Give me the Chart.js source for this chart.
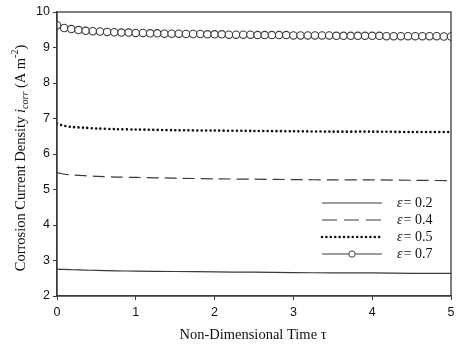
<!DOCTYPE html>
<html>
<head>
<meta charset="utf-8">
<script src="https://cdn.jsdelivr.net/npm/chart.js@4"></script>
<style>
  html, body { margin: 0; padding: 0; background: #fff; }
  #wrap { width: 474px; height: 347px; }
</style>
</head>
<body>
<div id="wrap"><canvas id="myChart" width="474" height="347"></canvas></div>
<script>
// time samples for the smooth curves
var tLine = [0, 0.05, 0.1, 0.2, 0.35, 0.5, 0.75, 1, 1.5, 2, 2.5, 3, 3.5, 4, 4.5, 5];
var eps02 = [2.76, 2.75, 2.75, 2.74, 2.73, 2.72, 2.71, 2.70, 2.69, 2.68, 2.67, 2.66, 2.65, 2.65, 2.64, 2.64];
var eps04 = [5.48, 5.45, 5.43, 5.41, 5.39, 5.37, 5.35, 5.34, 5.32, 5.30, 5.29, 5.28, 5.27, 5.27, 5.26, 5.25];
var eps05 = [6.86, 6.82, 6.79, 6.76, 6.74, 6.72, 6.70, 6.69, 6.67, 6.66, 6.65, 6.64, 6.63, 6.63, 6.62, 6.62];

// eps = 0.7 is plotted with a marker at every output step (dt = 1/11)
var stepMarker = 5 / 55;
var eps07 = [
  9.63, 9.55, 9.52, 9.49, 9.47, 9.46, 9.45, 9.44, 9.43, 9.42,
  9.42, 9.41, 9.41, 9.40, 9.40, 9.39, 9.39, 9.39, 9.38, 9.38,
  9.38, 9.37, 9.37, 9.37, 9.36, 9.36, 9.36, 9.36, 9.35, 9.35,
  9.35, 9.35, 9.35, 9.34, 9.34, 9.34, 9.34, 9.34, 9.34, 9.33,
  9.33, 9.33, 9.33, 9.33, 9.33, 9.33, 9.32, 9.32, 9.32, 9.32,
  9.32, 9.32, 9.32, 9.32, 9.31, 9.31
];

var seriesNames = ['0.2', '0.4', '0.5', '0.7'];
var xTicks = [0, 1, 2, 3, 4, 5];
var yTicks = [2, 3, 4, 5, 6, 7, 8, 9, 10];

function pairs(ts, ys) {
  return ys.map(function (y, i) { return { x: ts[i], y: y }; });
}
var tMarker = eps07.map(function (v, i) { return i * stepMarker; });

var ink = '#3a3a3a';
var serif = '"Liberation Serif", "Times New Roman", serif';
var sans = '"Liberation Sans", Arial, sans-serif';

// frame, axis titles and legend
var decor = {
  id: 'decor',
  afterDraw: function (chart) {
    var c = chart.ctx, a = chart.chartArea;
    c.save();
    c.strokeStyle = ink;
    c.lineWidth = 1.3;
    c.strokeRect(a.left, a.top, a.right - a.left, a.bottom - a.top);

    c.fillStyle = '#111';
    c.textBaseline = 'alphabetic';

    // x title
    c.font = '14.5px ' + serif;
    c.textAlign = 'center';
    c.fillText('Non-Dimensional Time \u03c4', 253, 339);

    // y title, rotated, with italic i and sub/superscripts
    c.translate(25, 158);
    c.rotate(-Math.PI / 2);
    var parts = [
      { t: 'Corrosion Current Density ', f: '14.5px ' + serif, dy: 0 },
      { t: 'i', f: 'italic 14.5px ' + serif, dy: 0 },
      { t: 'corr', f: 'italic 10px ' + serif, dy: 3 },
      { t: ' (A m', f: '14.5px ' + serif, dy: 0 },
      { t: '-2', f: '10px ' + serif, dy: -7 },
      { t: ')', f: '14.5px ' + serif, dy: 0 }
    ];
    var total = 0;
    parts.forEach(function (p) { c.font = p.f; p.w = c.measureText(p.t).width; total += p.w; });
    var x = -total / 2;
    c.textAlign = 'left';
    parts.forEach(function (p) { c.font = p.f; c.fillText(p.t, x, p.dy); x += p.w; });
    c.restore();

    // legend
    c.save();
    chart.data.datasets.forEach(function (ds, i) {
      var y = 203 + i * 17;
      c.strokeStyle = ds.borderColor;
      c.lineWidth = ds.borderWidth;
      c.lineCap = ds.borderCapStyle || 'butt';
      c.setLineDash(ds.legendDash || []);
      c.beginPath();
      c.moveTo(322, y);
      c.lineTo(382, y);
      c.stroke();
      c.setLineDash([]);
      if (ds.pointRadius > 0) {
        c.beginPath();
        c.arc(352, y, 3.2, 0, Math.PI * 2);
        c.fillStyle = '#fff';
        c.fill();
        c.lineWidth = 1;
        c.stroke();
      }
      c.fillStyle = '#111';
      c.textAlign = 'left';
      c.textBaseline = 'middle';
      c.font = 'italic 14px ' + serif;
      c.fillText('\u03b5', 397, y);
      var w = c.measureText('\u03b5').width;
      c.font = '14px ' + serif;
      c.fillText('= ' + seriesNames[i], 397 + w + 1, y);
    });
    c.restore();
  }
};

var ctx = document.getElementById('myChart').getContext('2d');
new Chart(ctx, {
  type: 'line',
  data: {
    datasets: [{
      label: '\u03b5 = ' + seriesNames[0],
      data: pairs(tLine, eps02),
      borderColor: ink, borderWidth: 1.2, pointRadius: 0, tension: 0.3
    }, {
      label: '\u03b5 = ' + seriesNames[1],
      data: pairs(tLine, eps04),
      borderColor: ink, borderWidth: 1.2, pointRadius: 0, tension: 0.3,
      borderDash: [12, 6], legendDash: [15, 7]
    }, {
      label: '\u03b5 = ' + seriesNames[2],
      data: pairs(tLine, eps05),
      borderColor: '#111', borderWidth: 2.6, pointRadius: 0, tension: 0.3,
      borderDash: [0, 4.4], borderCapStyle: 'round', legendDash: [0, 4.4]
    }, {
      label: '\u03b5 = ' + seriesNames[3],
      data: pairs(tMarker, eps07),
      borderColor: ink, borderWidth: 1, tension: 0.3,
      pointRadius: 3.7, pointBorderWidth: 1.1,
      pointBackgroundColor: '#fff', pointBorderColor: ink
    }]
  },
  options: {
    responsive: false,
    animation: false,
    layout: { padding: { left: 0, right: 23, top: 12, bottom: 0 } },
    plugins: { legend: { display: false }, tooltip: { enabled: false } },
    scales: {
      x: {
        type: 'linear', min: 0, max: 5,
        afterFit: function (s) { s.height = 51; },
        afterBuildTicks: function (s) { s.ticks = xTicks.map(function (v) { return { value: v }; }); },
        border: { display: true, color: ink, width: 1.3 },
        grid: { drawOnChartArea: false, drawTicks: true, tickLength: 4, color: ink },
        ticks: { color: '#111', font: { family: sans, size: 12.5 }, padding: 5, maxRotation: 0 }
      },
      y: {
        type: 'linear', min: 2, max: 10,
        afterFit: function (s) { s.width = 57; },
        afterBuildTicks: function (s) { s.ticks = yTicks.map(function (v) { return { value: v }; }); },
        border: { display: true, color: ink, width: 1.3 },
        grid: { drawOnChartArea: false, drawTicks: true, tickLength: 4, color: ink },
        ticks: { color: '#111', font: { family: sans, size: 12.5 }, padding: 3 }
      }
    }
  },
  plugins: [decor]
});
</script>
</body>
</html>
